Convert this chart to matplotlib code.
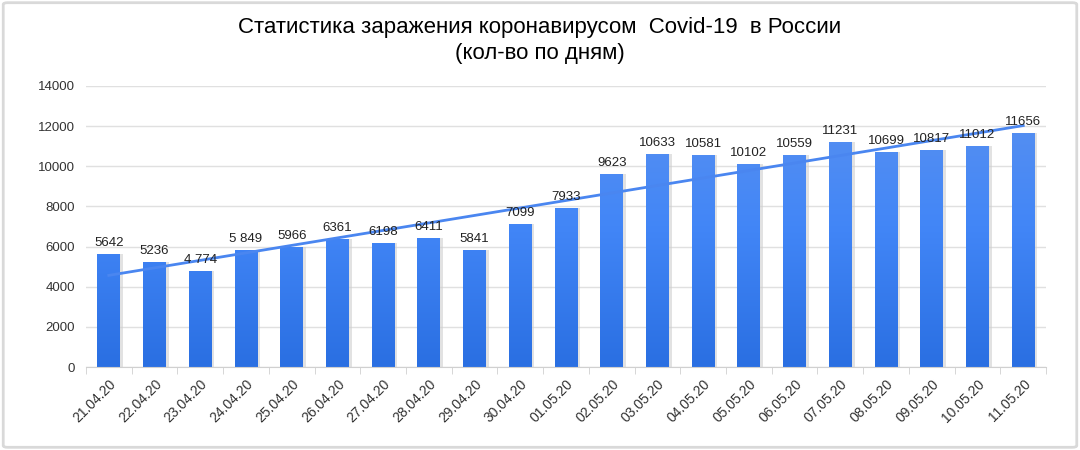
import matplotlib.pyplot as plt
import numpy as np
from matplotlib.patches import FancyBboxPatch
from matplotlib.colors import LinearSegmentedColormap

dates = ["21.04.20", "22.04.20", "23.04.20", "24.04.20", "25.04.20", "26.04.20",
         "27.04.20", "28.04.20", "29.04.20", "30.04.20", "01.05.20", "02.05.20",
         "03.05.20", "04.05.20", "05.05.20", "06.05.20", "07.05.20", "08.05.20",
         "09.05.20", "10.05.20", "11.05.20"]
cases = [5642, 5236, 4774, 5849, 5966, 6361, 6198, 6411, 5841, 7099, 7933, 9623,
         10633, 10581, 10102, 10559, 11231, 10699, 10817, 11012, 11656]
labels = ["5642", "5236", "4 774", "5 849", "5966", "6361", "6198", "6411", "5841",
          "7099", "7933", "9623", "10633", "10581", "10102", "10559", "11231",
          "10699", "10817", "11012", "11656"]

plt.rcParams['font.family'] = ['Liberation Sans', 'DejaVu Sans']

fig = plt.figure(figsize=(10.8, 4.5), dpi=100)
ax = fig.add_axes([0.0796, 0.1844, 0.889, 0.6246])

x = np.arange(len(cases))
w = 0.5

# soft shadow behind bars
ax.bar(x + 0.03, cases, width=w + 0.06, color="#cfcfcf", alpha=0.6, zorder=1)
bars = ax.bar(x, cases, width=w, color="none", zorder=2)

# vertical gradient inside each bar
grad = np.linspace(0, 1, 256).reshape(-1, 1)
cmap = LinearSegmentedColormap.from_list("blue", ["#2a6fe2", "#4286f7", "#5c92ef"])
for b in bars:
    x0 = b.get_x()
    im = ax.imshow(grad, extent=[x0, x0 + b.get_width(), 0, 14000], origin="lower",
                   cmap=cmap, aspect="auto", zorder=2)
    im.set_clip_path(b)

for xi, v, lab in zip(x, cases, labels):
    ax.text(xi, v + 250, lab, ha="center", va="bottom", fontsize=9.5, color="#222222", zorder=4)

# linear trend
k, c = np.polyfit(x, cases, 1)
ax.plot(x, k * x + c, color="#4a86f0", lw=2, zorder=3)

ax.set_xlim(-0.5, len(cases) - 0.5)
ax.set_ylim(0, 14000)
ax.set_yticks(np.arange(0, 14001, 2000))
ax.tick_params(axis="y", length=0, labelsize=9.5, labelcolor="#333333", pad=8)
ax.set_xticks(x)
ax.set_xticklabels(dates, rotation=45, ha="right", rotation_mode="anchor",
                   fontsize=10, color="#333333")
ax.tick_params(axis="x", length=0, pad=7)
ax.set_xticks(np.arange(-0.5, len(cases), 1), minor=True)
ax.tick_params(axis="x", which="minor", length=5, color="#d0d0d0")
ax.grid(axis="y", color="#e0e0e0", lw=1, zorder=0)
ax.set_axisbelow(True)
for s in ["top", "right", "left"]:
    ax.spines[s].set_visible(False)
ax.spines["bottom"].set_color("#d0d0d0")

fig.text(0.5, 0.94, "Статистика заражения коронавирусом  Covid-19  в России",
         ha="center", va="center", fontsize=16)
fig.text(0.5, 0.882, "(кол-во по дням)", ha="center", va="center", fontsize=16)

# outer frame
frame = FancyBboxPatch((0.003, 0.006), 0.994, 0.988, boxstyle="round,pad=0,rounding_size=0.004",
                       transform=fig.transFigure, fill=False, ec="#d9d9d9", lw=2)
fig.patches.append(frame)

fig.savefig("out.png", dpi=100)
